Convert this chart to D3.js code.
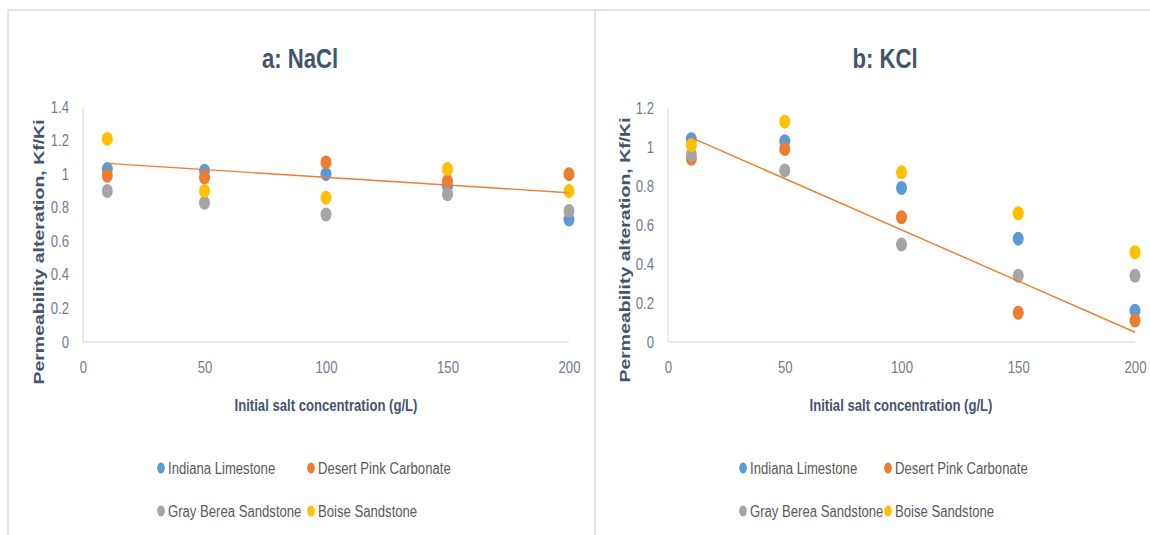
<!DOCTYPE html>
<html>
<head>
<meta charset="utf-8">
<script src="https://cdn.jsdelivr.net/npm/d3@7"></script>
<style>
  html, body { margin: 0; padding: 0; background: #ffffff; }
  svg { display: block; }
</style>
</head>
<body>
<svg id="chart" width="1150" height="535"></svg>
<script>
// Salt concentrations tested (g/L)
const concentrations = [10, 50, 100, 150, 200];
const xTicks = [0, 50, 100, 150, 200];

const seriesNames = ["Indiana Limestone", "Desert Pink Carbonate", "Gray Berea Sandstone", "Boise Sandstone"];
const seriesColors = ["#5B9BD5", "#ED7D31", "#A5A5A5", "#FFC000"];

// Permeability alteration Kf/Ki, NaCl brine
const naclIndiana = [1.03, 1.02, 1.00, 0.93, 0.73];
const naclDesert  = [0.99, 0.98, 1.07, 0.96, 1.00];
const naclGray    = [0.90, 0.83, 0.76, 0.88, 0.78];
const naclBoise   = [1.21, 0.90, 0.86, 1.03, 0.90];
const naclTrendX  = [10, 200];
const naclTrendY  = [1.064, 0.889];
const naclYTicks  = [0, 0.2, 0.4, 0.6, 0.8, 1, 1.2, 1.4];

// Permeability alteration Kf/Ki, KCl brine
const kclIndiana = [1.04, 1.03, 0.79, 0.53, 0.16];
const kclDesert  = [0.94, 0.99, 0.64, 0.15, 0.11];
const kclGray    = [0.96, 0.88, 0.50, 0.34, 0.34];
const kclBoise   = [1.01, 1.13, 0.87, 0.66, 0.46];
const kclTrendX  = [10, 200];
const kclTrendY  = [1.048, 0.050];
const kclYTicks  = [0, 0.2, 0.4, 0.6, 0.8, 1, 1.2];

const svg = d3.select("#chart");
const font = "'Liberation Sans', Arial, sans-serif";
const NARROW = 0.82;   // horizontal squeeze for a condensed look

// text placed at (x, y) and squeezed horizontally around its anchor
function narrowText(parent, x, y, str, size, opts = {}) {
  return parent.append("text")
    .attr("transform", `translate(${x},${y}) scale(${NARROW},1)`)
    .attr("text-anchor", opts.anchor || "start")
    .attr("font-family", font)
    .attr("font-weight", opts.weight || "normal")
    .attr("font-size", size)
    .attr("fill", opts.fill || "#595959")
    .text(str);
}

function drawPanel(cfg) {
  const g = svg.append("g");

  // panel frame
  g.append("rect")
    .attr("x", cfg.frame[0]).attr("y", cfg.frame[1])
    .attr("width", cfg.frame[2]).attr("height", cfg.frame[3])
    .attr("fill", "#ffffff").attr("stroke", "#d9dde5").attr("stroke-width", 1.5);

  const x = d3.scaleLinear().domain([0, 200]).range(cfg.xRange);
  const y = d3.scaleLinear().domain(cfg.yDomain).range(cfg.yRange);

  // axis lines
  g.append("line")
    .attr("x1", x(0)).attr("x2", x(0)).attr("y1", y(cfg.yDomain[1])).attr("y2", y(0))
    .attr("stroke", "#d0d5dd").attr("stroke-width", 1);
  g.append("line")
    .attr("x1", x(0)).attr("x2", x(200)).attr("y1", y(0)).attr("y2", y(0))
    .attr("stroke", "#d0d5dd").attr("stroke-width", 1);

  // y tick labels
  const yAxis = d3.axisLeft(y).tickValues(cfg.yTicks).tickSize(0).tickPadding(14 / NARROW)
    .tickFormat(d3.format("~g"));
  const ya = g.append("g").attr("transform", `translate(${x(0)},0)`).call(yAxis);
  ya.select(".domain").remove();
  ya.selectAll("text")
    .attr("transform", `scale(${NARROW},1)`)
    .attr("font-family", font).attr("font-size", 16).attr("fill", "#6f7c8e");

  // x tick labels
  const xAxis = d3.axisBottom(x).tickValues(xTicks).tickSize(0).tickPadding(20);
  const xa = g.append("g").attr("transform", `translate(0,${y(0)})`).call(xAxis);
  xa.select(".domain").remove();
  xa.selectAll("text")
    .attr("transform", `scale(${NARROW},1)`)
    .attr("font-family", font).attr("font-size", 16).attr("fill", "#6f7c8e");

  // data points, series in legend order
  cfg.series.forEach((vals, si) => {
    g.append("g").selectAll("ellipse")
      .data(vals.map((v, i) => ({ c: concentrations[i], v })))
      .join("ellipse")
      .attr("cx", d => x(d.c)).attr("cy", d => y(d.v))
      .attr("rx", 5.5).attr("ry", 7)
      .attr("fill", seriesColors[si]);
  });

  // linear trend line
  const trend = cfg.trendX.map((c, i) => [c, cfg.trendY[i]]);
  g.append("path")
    .attr("d", d3.line().x(d => x(d[0])).y(d => y(d[1]))(trend))
    .attr("fill", "none").attr("stroke", "#ED7D31").attr("stroke-width", 1.4);

  // title
  narrowText(g, cfg.titlePos[0], cfg.titlePos[1], cfg.title, 27,
    { anchor: "middle", weight: "bold", fill: "#44546a" });

  // axis titles
  narrowText(g, cfg.xTitlePos[0], cfg.xTitlePos[1], "Initial salt concentration (g/L)", 16,
    { anchor: "middle", weight: "bold", fill: "#44546a" });

  g.append("text")
    .attr("transform", `translate(${cfg.yTitlePos[0]},${cfg.yTitlePos[1]}) rotate(-90) scale(1.3,1)`)
    .attr("text-anchor", "middle")
    .attr("font-family", font).attr("font-weight", "bold").attr("font-size", 15)
    .attr("fill", "#44546a").text("Permeability alteration, Kf/Ki");

  // legend, two rows of two entries
  seriesNames.forEach((name, si) => {
    const col = si % 2, row = Math.floor(si / 2);
    const lx = cfg.legendX[col], ly = cfg.legendY[row];
    g.append("ellipse").attr("cx", lx).attr("cy", ly).attr("rx", 3.8).attr("ry", 5.5)
      .attr("fill", seriesColors[si]);
    narrowText(g, lx + 7, ly + 6, name, 16, { fill: "#595959" });
  });
}

drawPanel({
  frame: [8, 10, 590, 540],
  xRange: [83, 569], yDomain: [0, 1.4], yRange: [342, 107], yTicks: naclYTicks,
  series: [naclIndiana, naclDesert, naclGray, naclBoise],
  trendX: naclTrendX, trendY: naclTrendY,
  title: "a: NaCl", titlePos: [300, 68],
  xTitlePos: [326, 411], yTitlePos: [44, 252],
  legendX: [161, 311], legendY: [468, 511]
});

drawPanel({
  frame: [595, 10, 580, 540],
  xRange: [668, 1135], yDomain: [0, 1.2], yRange: [342, 108], yTicks: kclYTicks,
  series: [kclIndiana, kclDesert, kclGray, kclBoise],
  trendX: kclTrendX, trendY: kclTrendY,
  title: "b: KCl", titlePos: [885, 68],
  xTitlePos: [901, 411], yTitlePos: [630, 250],
  legendX: [743, 888], legendY: [468, 511]
});
</script>
</body>
</html>
